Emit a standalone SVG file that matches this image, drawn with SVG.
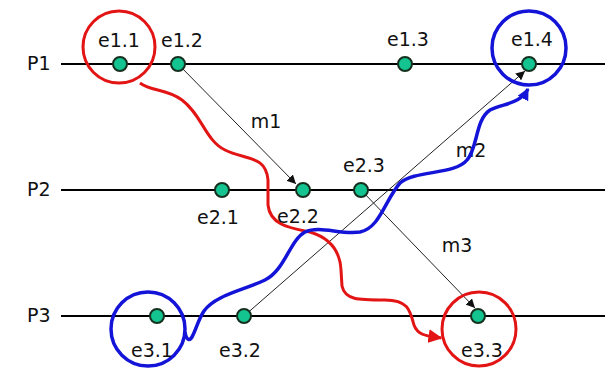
<svg xmlns="http://www.w3.org/2000/svg" width="605" height="368" viewBox="0 0 605 368">
<style>
text{font-family:"DejaVu Sans","Liberation Sans",sans-serif;font-size:19px;fill:#111}
.lbl{text-anchor:middle}
.pl{stroke:#000;stroke-width:2;fill:none}
.msg{stroke:#222;stroke-width:1;fill:none}
.ev{fill:#14c490;stroke:#15301f;stroke-width:2}
.red{stroke:#e31414;stroke-width:3;fill:none}
.blue{stroke:#1414d8;stroke-width:3.5;fill:none}
</style>
<defs>
<marker id="ah" viewBox="0 0 10 10" refX="10" refY="5" markerWidth="9" markerHeight="9" markerUnits="userSpaceOnUse" orient="auto"><path d="M0,0 L10,5 L0,10 z" fill="#111"/></marker>
<marker id="ahr" viewBox="0 0 10 10" refX="9" refY="5" markerWidth="14" markerHeight="14" markerUnits="userSpaceOnUse" orient="auto"><path d="M0,0 L10,5 L0,10 z" fill="#e31414"/></marker>
<marker id="ahb" viewBox="0 0 10 10" refX="9" refY="5" markerWidth="12" markerHeight="12" markerUnits="userSpaceOnUse" orient="auto"><path d="M0,0 L10,5 L0,10 z" fill="#1414d8"/></marker>
</defs>
<g id="processes">
<line class="pl" x1="61" y1="64" x2="605" y2="64"/>
<line class="pl" x1="61" y1="190" x2="605" y2="190"/>
<line class="pl" x1="61" y1="316" x2="605" y2="316"/>
<text x="27" y="70">P1</text>
<text x="27" y="196">P2</text>
<text x="27" y="322">P3</text>
</g>
<g id="connectors">
<line class="msg" x1="178" y1="64" x2="296" y2="184" marker-end="url(#ah)"/>
<line class="msg" x1="244" y1="316" x2="525" y2="71" marker-end="url(#ah)"/>
<line class="msg" x1="361" y1="190" x2="475" y2="308" marker-end="url(#ah)"/>
<text x="266" y="128" class="lbl">m1</text>
<text x="471" y="157" class="lbl">m2</text>
<text x="457" y="252" class="lbl">m3</text>
<path class="red" d="M140,83 C152,92 165,88 182,100 C202,115 205,140 225,150 C245,160 266,155 268,180 L268,205 C270,225 290,228 310,232 C330,238 340,250 341,270 L342,286 C345,300 358,300 385,300 C408,300 410,310 414,325 C418,336 428,336 441,338" marker-end="url(#ahr)"/>
<path class="blue" d="M185,332 C186,339 189,342 192,337 C196,330 198,320 204,311 C215,295 245,290 265,280 C285,270 290,240 305,232 C320,225 340,235 360,232 C380,228 385,200 400,183 C415,170 455,175 467,160 C478,148 475,120 490,110 C505,103 520,104 528,89" marker-end="url(#ahb)"/>
</g>
<g id="scope-e1.1"><circle class="red" cx="119" cy="47" r="36"/></g>
<g id="scope-e1.4"><circle class="blue" cx="529" cy="48" r="37"/></g>
<g id="scope-e3.1"><circle class="blue" cx="148" cy="329" r="37"/></g>
<g id="scope-e3.3"><circle class="red" cx="479" cy="329" r="37"/></g>
<g id="e1.1"><circle class="ev" cx="120" cy="64" r="7"/><text class="lbl" x="119" y="47">e1.1</text></g>
<g id="e1.2"><circle class="ev" cx="178" cy="64" r="7"/><text class="lbl" x="182" y="47">e1.2</text></g>
<g id="e1.3"><circle class="ev" cx="405" cy="64" r="7"/><text class="lbl" x="408" y="46">e1.3</text></g>
<g id="e1.4"><circle class="ev" cx="529" cy="64" r="7"/><text class="lbl" x="532" y="46">e1.4</text></g>
<g id="e2.1"><circle class="ev" cx="222" cy="190" r="7"/><text class="lbl" x="218" y="224">e2.1</text></g>
<g id="e2.2"><circle class="ev" cx="303" cy="190" r="7"/><text class="lbl" x="298" y="223">e2.2</text></g>
<g id="e2.3"><circle class="ev" cx="361" cy="190" r="7"/><text class="lbl" x="364" y="172">e2.3</text></g>
<g id="e3.1"><circle class="ev" cx="157" cy="316" r="7"/><text class="lbl" x="152" y="357">e3.1</text></g>
<g id="e3.2"><circle class="ev" cx="244" cy="316" r="7"/><text class="lbl" x="240" y="357">e3.2</text></g>
<g id="e3.3"><circle class="ev" cx="478" cy="316" r="7"/><text class="lbl" x="482" y="357">e3.3</text></g>
</svg>
